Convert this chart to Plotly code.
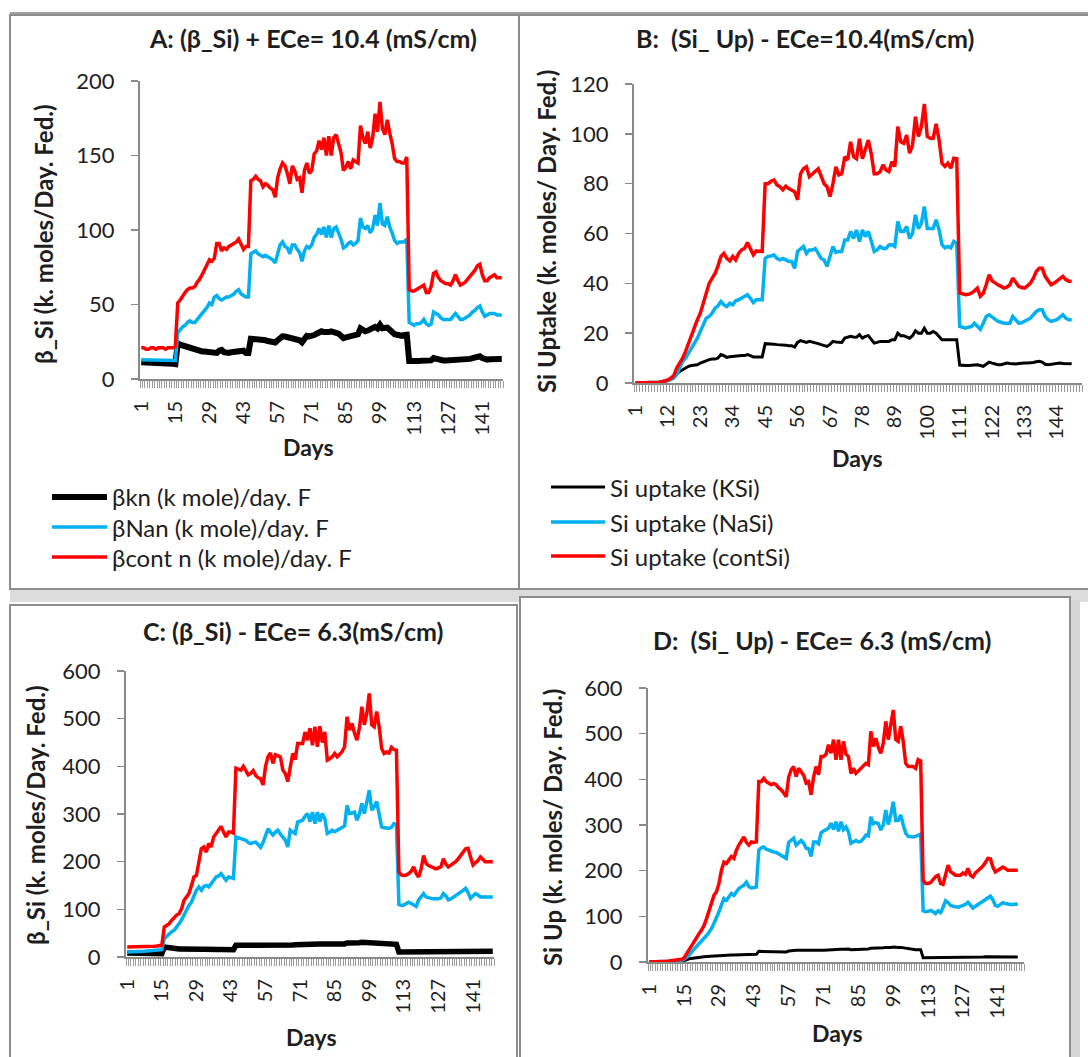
import plotly.graph_objects as go

W, H = 1088, 1057

# ---------------- data ----------------
A_KSi = [11.2,11.2,11,11,11,11,11,10.8,10.8,10.8,
         10.6,10.5,10.3,10.2,10,24,23,22.5,22,21,
         20,19.5,19,18.5,18.5,18.5,18.5,18.5,18.5,18,
         17.5,17.5,19,19.5,18,17.5,17.5,18,18,18,
         18.5,19,19,17.5,17.5,27,27,27,26.5,26.5,
         26,26,25.5,25.5,25,24.5,26,28,28.6,28.5,
         28,27.5,28,27.5,26.5,26,24.6,27,29,28.6,
         28.6,29.5,30.4,31,32,31.5,31,31.5,32,31,
         31,30.5,29,27.5,28,28.5,28.6,28.6,29,30,
         34,33,32,32.5,33,34,35,34,36.4,34,
         34,34.5,33,31,30,29.7,29,29,29.5,29.7,
         12,11.8,11.8,12,12,12.3,12.3,12,12,12.5,
         14,13.5,12.8,12.5,12.5,12.5,12.5,12.8,13,13,
         13,12.8,12.8,13,13.2,13.5,14,14.2,14.8,15.2,
         14,13,13,13.3,13.4,13.4,13.4,13.4,13.4]
A_NaSi = [13,13,13,13,13,13,13,13,13,13,
          13,12.5,12.5,12.5,12.5,31,33,35,36,38,
          39,38,38,40,42,44,46,48,51,50,
          55,56,54,53,54,55,55,56,57,59,
          60,57,56,55,55,84,85,86,84,83,
          82,83,82,81,80,78,84,90,92,89,
          88,84,90,90,87,85,79,86,89,88,
          90,95,97,101,97,102,95,103,95,101,
          102,98,94,88,89,91,92,90,91,93,
          108,102,101,103,98,101,110,103,118,104,
          103,109,102,98,93,91,92,92,92,94,
          38,37,36,37,37,38,40,37,36,37,
          45,44,43,41,40,40,40,40,42,44,
          42,40,40,41,42,43,45,46,48,49,
          45,42,43,44,44,44,43,43,43]
A_cont = [21,21,20,20,21,21,20,21,21,21,
          20,21,21,21,22,51,53,56,58,60,
          61,61,62,65,67,70,73,76,80,79,
          81,91,91,86,88,87,89,90,91,92,
          94,90,87,89,89,133,134,136,134,133,
          129,131,130,128,127,122,135,141,145,143,
          138,131,143,140,134,135,125,140,145,138,
          140,151,153,160,154,162,150,163,150,162,
          164,158,152,140,142,146,141,147,146,145,
          170,162,158,166,155,162,178,166,186,168,
          164,174,165,158,148,146,146,145,145,149,
          60,59,59,60,61,62,63,58,58,62,
          71,72,68,66,65,64,64,63,66,70,
          66,63,64,65,67,69,71,73,76,77,
          70,66,66,68,69,70,68,68,68]

B_KSi = [0,0,0,0,0,0,0.1,0.2,0.3,0.5,
         0.7,1,1.5,2,3.5,4.7,5.3,6,6.7,7,
         7,7.3,8,8.5,9,9.4,9.6,9.6,10,11.4,
         11,10.3,10.5,10.7,10.8,11,11,11,11.4,11,
         10.4,10.4,10.4,10.4,15.8,15.8,15.8,15.6,15.4,15.4,
         15.4,15.2,15,15,14.4,16.3,17,16.5,16.3,16.7,
         16.5,16,15.8,15.4,15,14.7,15.5,16.7,16.5,16.3,
         16.3,18,18.2,18.7,18.5,18.4,19.4,18,18.7,19,
         17.5,16,16.3,16.7,16.7,16.7,16.7,17.4,17.4,20,
         19,19,18.5,18,19,21,20,20,22,20,
         20,20.7,20,18.5,17.4,17.4,17.4,17.4,17.4,17.4,
         7.2,7,7,7,7.2,7.3,7.3,7,6.7,7.5,
         8.4,8,7.6,7.3,7.3,7.6,8,7.8,7.6,7.6,
         7.8,8,8,8,8,8.2,8.5,8.7,8.4,7.5,
         7.3,7.5,7.8,8,8,7.8,7.7,7.7,7.7]
B_NaSi = [0,0,0,0,0,0,0.1,0.2,0.3,0.5,
          0.7,1,1.5,2.2,3.5,6,8.7,10,12,13.4,
          15.4,18,20.7,23.4,26,26.7,28,30,31,32.7,
          31.4,30.7,32,31.4,33,33.4,34,34.5,35.4,34,
          32.3,33.4,33.4,33.4,50,50.8,51,51.4,50,49.4,
          50,49.4,48.8,48.8,46,52.8,54,54.8,52,53.4,
          53.4,54,52,50,49.4,46.8,50.8,54.8,52.4,52.8,
          52.8,57.4,57.4,60.8,58,61.4,56.8,61.4,58.8,60.8,
          57,52.8,53.4,54.8,54,54,55.4,55.5,54.8,64.8,
          60.8,60.8,62.8,58,60,67.5,62,64.1,70.8,62,
          62,62,65.5,61.5,55.5,54.2,54.8,54.2,56.8,56,
          22.7,22.4,22,22.4,22.7,24,22.8,21.6,24,26.7,
          27.4,26.4,25.4,24.7,24.4,24,24,24,26.7,25.4,
          24,24.2,24.7,25.4,26,27.4,28.7,29.4,29.4,26.7,
          25.4,24.7,25,25.4,26.4,27.4,26,25.4,25.4]
B_cont = [0,0,0,0,0,0,0.1,0.2,0.3,0.5,
          0.8,1.2,2,3,6,8,10,12.7,16,19.4,
          22,25.4,28,32,36,40,42,44,47,50.8,
          52,50,49,50.8,49.4,52,53.4,54,56.4,54,
          51.4,53,53,52.8,80,80,81,81.5,79.5,78.8,
          77.5,79,78,77.5,76.8,73.5,84,86,86.8,82.8,
          84,85,86,83,80,78.8,74.8,80,86.8,83.5,
          84,90.8,89.5,96.8,90.8,90,98,90,93.5,97.5,
          92,84,84,84.8,87.5,85.5,84.8,88.8,86.8,102.9,
          96.8,96.2,99.5,92.2,95.5,106.9,98.9,102.9,112,98.9,
          98.2,98.2,104,97.6,88.2,86.9,88.2,86.2,90.2,90,
          36.1,35.8,35.4,35.6,36.1,37,38.1,34.8,36,39.4,
          43.4,41,40.1,39.4,38.8,38.1,38.5,39.4,42.1,40.5,
          38.8,38.3,38.1,39,40.1,42.1,44.8,46.1,46.1,42.8,
          41,39.4,40,40.8,42,42.8,41.5,40.8,40.8]

C_KSi = [8.5,8.5,8.4,8.3,8.2,8,8,7.8,7.6,7.5,
         7.4,7.2,7,7,7,21,20,19,18.5,18,
         17.5,17,17,16.5,16.5,16,16,16,16.5,16.5,
         16,16,15.5,15.5,15.5,15.5,15.5,15.5,15.5,15.5,
         15.5,15.5,15.5,15.4,24.5,24.5,24.5,24,24,23.5,
         23.5,23,23,22.5,22.4,22.4,24,25,25,24.5,
         25,25,24.5,24,24,23,24,25,25.5,26,
         26,27,27,27.5,27.5,28,28,28,27.5,27.5,
         27.5,25.5,25.5,26,26,26,26.5,27,27.5,29.4,
         29,29,29,29.5,30,31,30.5,31,31.5,30.5,
         30.5,30,29,28,27,26.6,26.6,26.6,26.6,26.6,
         10.5,10.5,10.5,11,11,11,11,11,11.5,12,
         12,12,11.5,11.5,11.5,11.5,11.5,11.5,12,12,
         12,12,12,12,12.5,12.5,13,13,12.5,12,
         12,12,12,12,12,12,12,12,12]
C_NaSi = [10.5,10.5,10.5,11,11,11.5,12,12,12.5,13,
          13,13.5,14,14.5,15.4,38.5,44,49,53,56,
          62,70,78,90,98,108,115,128,140,147,
          140,148,150,147,155,161,168,170,175,168,
          161,168,166,165,252,250,248,246,245,240,
          238,240,241,236,230,240,256,269,262,256,
          262,266,258,252,245,231,266,262,259,283,
          285,287,295,301,284,304,280,304,284,301,
          290,259,262,266,263,266,270,273,275,318,
          301,302,304,287,300,322,301,325,350,308,
          315,326,294,273,271,270,270,272,280,278,
          110,108,109,112,115,112,108,106,120,128,
          133,126,124,123,122,122,122,124,133,128,
          120,122,125,128,131,136,140,144,135,123,
          128,133,130,126,126,126,126,126,126]
C_cont = [21,21,21,21,21,21,21,21.5,22,22,
          22,22.5,23,23.5,24.5,63,66,70,77,84,
          88,91,101,119,126,133,150,168,171,196,
          227,231,220,238,231,252,259,266,274,262,
          252,262,262,260,396,394,392,400,389,382,
          385,391,381,376,374,361,400,420,428,406,
          424,422,420,392,385,368,399,427,414,448,
          448,448,472,455,480,444,483,441,484,450,
          472,413,416,420,427,420,425,431,441,504,
          476,490,470,455,480,525,487,511,553,487,
          483,515,483,438,427,430,428,440,435,434,
          178,172,171,172,175,180,189,175,168,185,
          213,196,192,189,187,185,187,189,206,195,
          189,192,196,200,206,212,220,227,228,210,
          193,198,202,210,205,200,200,200,200]

D_KSi = [0,0,0,0,0,0,0,0,0.2,0.5,
         0.8,1,1.5,2,3,5,7,8,9,10,
         10.5,11,11.5,12,12.5,13,13.5,14,14.5,14.6,
         14.8,15,15.2,15.4,15.6,15.8,16,16.2,16.5,16.8,
         16.8,16.8,16.8,16.8,23.4,23.4,23.2,23,23,22.8,
         22.6,22.4,22.2,22,22,22,24,25,25.6,25.6,
         25.6,25.6,25,24.5,24.5,24,25,25.6,25.6,25.6,
         26,26.5,27,27,27.5,27.5,28,28,28,29,
         28.5,27,27,27,27.5,27.5,28,28,28.5,30,
         30,30,30,30.5,31,32,31.5,32,33,32,
         32,32,31,30,28.5,27.5,27,27,27,27,
         9.5,9.5,9.5,9.8,10,10,10,10,10.5,11,
         11,11,11,11,11,11,11,11,11,11,
         11,11,11,11,11,11.5,11.5,11.5,11,11,
         11,11,11,11,11,11,11,11,11]
D_NaSi = [0,0,0,0,0,0.3,0.6,1,1.3,1.7,
          2,2.5,3,4,6,10,15,22,29,35,
          40,46,51,58,65,73,85,96,110,125,
          139,135,142,150,146,155,161,165,168,175,
          165,162,164,164,245,250,252,247,245,242,
          241,240,237,234,230,227,262,267,271,256,
          262,266,260,249,248,231,263,263,259,283,
          287,289,293,304,290,307,286,307,290,296,
          285,260,264,266,263,264,270,278,276,318,
          303,305,303,289,300,333,301,322,351,310,
          310,322,300,282,275,274,274,275,278,280,
          112,110,111,113,110,106,112,108,120,134,
          130,124,122,120,120,122,124,126,131,124,
          118,122,126,130,134,138,142,144,136,124,
          122,126,130,128,126,126,126,127,127]
D_cont = [0,0,0,0,0,0.5,1,1.5,2,2.5,
          3,3.5,4.5,6,9,18,29,36,45,55,
          62,70,80,95,113,130,146,154,172,201,
          219,216,225,231,227,245,256,267,274,262,
          256,263,262,263,395,395,402,395,391,388,
          391,388,381,377,370,362,405,421,428,406,
          424,415,409,392,395,366,405,428,410,450,
          450,455,476,457,487,443,487,443,483,455,
          450,413,424,413,418,424,430,435,432,505,
          472,490,470,457,479,527,487,516,552,487,
          483,516,483,435,428,428,428,424,443,440,
          179,172,172,174,180,187,190,172,170,190,
          212,198,194,190,190,190,195,192,205,190,
          186,195,200,205,210,218,227,226,208,197,
          201,205,208,205,201,201,201,201,201]

ticks_14 = [1, 15, 29, 43, 57, 71, 85, 99, 113, 127, 141]
ticks_11 = [1, 12, 23, 34, 45, 56, 67, 78, 89, 100, 111, 122, 133, 144]

names_A = ["βkn (k mole)/day. F", "βNan (k mole)/day. F", "βcont n (k mole)/day. F"]
names_B = ["Si uptake (KSi)", "Si uptake (NaSi)", "Si uptake (contSi)"]

titles = ["A: (β_Si) + ECe= 10.4 (mS/cm)", "B:  (Si_ Up) - ECe=10.4(mS/cm)",
          "C: (β_Si) - ECe= 6.3(mS/cm)", "D:  (Si_ Up) - ECe= 6.3 (mS/cm)"]
ytitles = ["β_Si (k. moles/Day. Fed.)", "Si Uptake (k. moles/ Day. Fed.)",
           "β_Si (k. moles/Day. Fed.)", "Si Up (k. moles/ Day. Fed.)"]

# ---------------- styling ----------------
FONT = "Lato"
GRAY = "#898989"
TXT = "#1e1e1e"
COLORS = ["#000000", "#00B0F0", "#FF0000"]


def px(x):
    return x / W


def py(y):
    return 1 - y / H


panels = [
    dict(box=(140, 503, 81, 379), xmax=149.5, ymax=200, dtick=50, ticks=ticks_14,
         series=[A_KSi, A_NaSi, A_cont], widths=[6, 3.5, 3.5], names=names_A,
         title=(313, 38), ytitle=(43, 234), days=(308, 447)),
    dict(box=(634, 1082, 84, 383), xmax=152.5, ymax=120, dtick=20, ticks=ticks_11,
         series=[B_KSi, B_NaSi, B_cont], widths=[3, 3.5, 3.5], names=names_B,
         title=(805, 38), ytitle=(547, 232), days=(857, 458)),
    dict(box=(126, 494, 671, 957), xmax=149.5, ymax=600, dtick=100, ticks=ticks_14,
         series=[C_KSi, C_NaSi, C_cont], widths=[5.5, 3.5, 3.5], names=names_A,
         title=(293, 631), ytitle=(35, 815), days=(311, 1037)),
    dict(box=(648, 1024, 688, 962), xmax=151.5, ymax=600, dtick=100, ticks=ticks_14,
         series=[D_KSi, D_NaSi, D_cont], widths=[3, 3.5, 3.5], names=names_B,
         title=(822, 640), ytitle=(552, 828), days=(837, 1033)),
]

fig = go.Figure()
layout = dict(width=W, height=H, autosize=False, margin=dict(l=0, r=0, t=0, b=0, pad=0),
              paper_bgcolor="white", plot_bgcolor="rgba(0,0,0,0)", showlegend=False,
              font=dict(family=FONT, color=TXT))
annotations = []
shapes = []

# frames
frame_line = dict(color="#8c8c8c", width=2)
shapes += [
    dict(type="line", xref="paper", yref="paper", x0=px(10), x1=px(1088), y0=py(13), y1=py(13),
         line=dict(color="#a0a0a0", width=2), layer="below"),
    dict(type="rect", xref="paper", yref="paper", x0=px(10), x1=px(1088), y0=py(589), y1=py(602),
         fillcolor="#dcdcdc", line=dict(width=0), layer="below"),
    dict(type="rect", xref="paper", yref="paper", x0=px(10), x1=px(519), y0=py(15), y1=py(589),
         fillcolor="white", line=frame_line, layer="below"),
    dict(type="path", xref="paper", yref="paper",
         path=f"M {px(519)},{py(15)} L {px(1088)},{py(15)} M {px(519)},{py(15)} L {px(519)},{py(589)} L {px(1088)},{py(589)}",
         line=frame_line, layer="below"),
    dict(type="rect", xref="paper", yref="paper", x0=px(1070), x1=px(1080), y0=py(600), y1=py(1057),
         fillcolor="#d6d6d6", line=dict(width=0), layer="below"),
    dict(type="path", xref="paper", yref="paper",
         path=f"M {px(10)},{py(1057)} L {px(10)},{py(605)} L {px(517)},{py(605)} L {px(517)},{py(1057)}",
         fillcolor="white", line=frame_line, layer="below"),
    dict(type="path", xref="paper", yref="paper",
         path=f"M {px(520)},{py(1057)} L {px(520)},{py(597)} L {px(1070)},{py(597)} L {px(1070)},{py(1057)}",
         fillcolor="white", line=frame_line, layer="below"),
]

for i, p in enumerate(panels):
    sfx = "" if i == 0 else str(i + 1)
    x0, x1, yt, yb = p["box"]
    for s, c, w, nm in zip(p["series"], COLORS, p["widths"], p["names"]):
        fig.add_trace(go.Scatter(x=list(range(1, len(s) + 1)), y=s, mode="lines", name=nm,
                                 line=dict(color=c, width=w), xaxis="x" + sfx, yaxis="y" + sfx,
                                 hoverinfo="skip"))
    layout["xaxis" + sfx] = dict(
        domain=[px(x0), px(x1)], range=[0.5, p["xmax"]], anchor="y" + sfx, automargin=False,
        showline=True, linecolor=GRAY, linewidth=2, showgrid=False, zeroline=False,
        ticks="", tickmode="array", tickvals=p["ticks"], ticktext=[str(t) for t in p["ticks"]],
        tickangle=-90, tickfont=dict(family=FONT, size=20, color=TXT), ticklabelstandoff=12,
        minor=dict(tickmode="linear", tick0=0.5, dtick=1, ticks="outside", ticklen=7,
                   tickcolor="#9a9a9a", tickwidth=1, showgrid=False))
    layout["yaxis" + sfx] = dict(
        domain=[py(yb), py(yt)], range=[0, p["ymax"]], anchor="x" + sfx, automargin=False,
        showline=True, linecolor=GRAY, linewidth=2, showgrid=False, zeroline=False,
        ticks="outside", ticklen=7, tickcolor=GRAY, tickwidth=1.5, dtick=p["dtick"],
        tickfont=dict(family=FONT, size=22, color=TXT), ticklabelstandoff=12)
    tx, ty = p["title"]
    annotations.append(dict(xref="paper", yref="paper", x=px(tx), y=py(ty), text=f"<b>{titles[i]}</b>",
                            showarrow=False, xanchor="center", yanchor="middle",
                            font=dict(family=FONT, size=25, color=TXT)))
    ax_, ay_ = p["ytitle"]
    annotations.append(dict(xref="paper", yref="paper", x=px(ax_), y=py(ay_), text=f"<b>{ytitles[i]}</b>",
                            showarrow=False, textangle=-90, xanchor="center", yanchor="middle",
                            font=dict(family=FONT, size=24, color=TXT)))
    dx, dy = p["days"]
    annotations.append(dict(xref="paper", yref="paper", x=px(dx), y=py(dy), text="<b>Days</b>",
                            showarrow=False, xanchor="center", yanchor="middle",
                            font=dict(family=FONT, size=23, color=TXT)))

# legends (panels A and B)
legend_pos = [(52, 107, 110, [497, 527, 557], names_A, [6, 3.5, 3.5]),
              (551, 605, 608, [487, 522, 556], names_B, [3, 3.5, 3.5])]
for lx0, lx1, tx, rows, nms, wids in legend_pos:
    for r, nm, c, w in zip(rows, nms, COLORS, wids):
        shapes.append(dict(type="line", xref="paper", yref="paper", x0=px(lx0), x1=px(lx1),
                           y0=py(r), y1=py(r), line=dict(color=c, width=w)))
        annotations.append(dict(xref="paper", yref="paper", x=px(tx), y=py(r), text=nm,
                                showarrow=False, xanchor="left", yanchor="middle",
                                font=dict(family=FONT, size=24, color=TXT)))

layout["annotations"] = annotations
layout["shapes"] = shapes
fig.update_layout(**layout)
fig.write_html("out.html", config={"displayModeBar": False, "staticPlot": True},
               post_script="document.body.style.margin='0px';document.body.style.overflow='hidden';")
